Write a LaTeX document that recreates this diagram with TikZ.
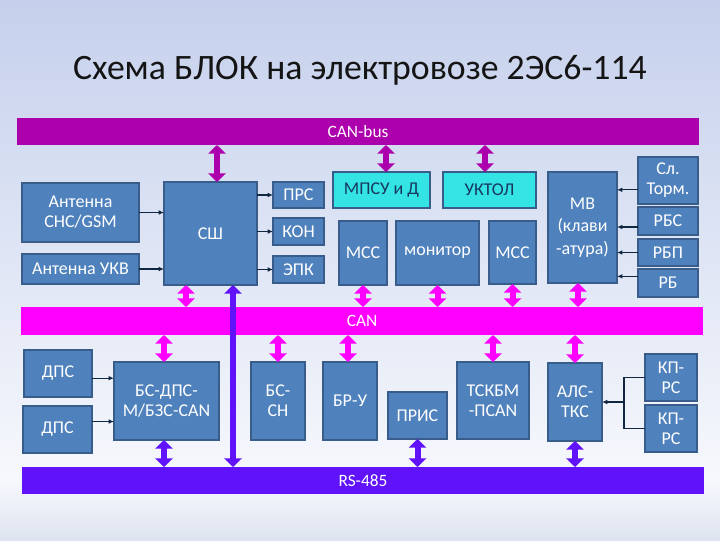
\documentclass[tikz,border=0pt]{standalone}
\usepackage{fontspec}
\setmainfont{Carlito}
\usetikzlibrary{arrows.meta,calc}
\definecolor{bgtop}{RGB}{197,208,236}
\definecolor{bgmid}{RGB}{246,248,252}
\definecolor{bgbot}{RGB}{222,228,240}
\definecolor{boxblue}{RGB}{79,129,189}
\definecolor{boxedge}{RGB}{56,93,138}
\definecolor{cyanbox}{RGB}{52,228,228}
\definecolor{navytext}{RGB}{23,55,94}
\definecolor{darkmag}{RGB}{172,0,172}
\definecolor{canpink}{RGB}{255,0,255}
\definecolor{rspurple}{RGB}{96,18,250}
\tikzset{
  boxs/.style={draw=boxedge, line width=1.1pt, fill=boxblue, text=white, align=center,
    inner sep=0pt, outer sep=0pt, font=\fontsize{13.5}{15}\selectfont},
  cyanboxs/.style={boxs, fill=cyanbox, text=navytext},
  bar/.style={draw=none, inner sep=0pt, outer sep=0pt, text=white, font=\fontsize{13}{14}\selectfont},
  bigarr/.style={line width=4.5pt, {Triangle[width=13pt,length=6.5pt]}-{Triangle[width=13pt,length=6.5pt]}},
  magarr/.style={bigarr, draw=darkmag},
  pinkarr/.style={bigarr, draw=canpink},
  purarr/.style={bigarr, draw=rspurple},
  thinarr/.style={draw=navytext!70!black, line width=0.8pt, -{Latex[length=4pt,width=3.5pt]}},
  thinline/.style={draw=navytext!70!black, line width=0.8pt}
}
\newcommand\bx[7][boxs]{\node[#1, minimum width={(#5-#3)*0.75pt}, minimum height={(#6-#4)*0.75pt}] (#2) at ({(#3+#5)/2},{(#4+#6)/2}) {#7};}
\begin{document}
\begin{tikzpicture}[x=0.75pt,y=-0.75pt]
\useasboundingbox (0,0) rectangle (720,540);
\shade[top color=bgtop, bottom color=bgmid] (0,0) rectangle (720,480);
\shade[top color=bgmid, bottom color=bgbot] (0,480) rectangle (720,540);
\node[font=\fontsize{26.8}{30}\selectfont, text=black!92] (title) at (360,70) {Схема БЛОК на электровозе 2ЭС6-114};
% bars
\bx[bar, fill=darkmag]{canbus}{17}{118}{699}{145}{CAN-bus}
\bx[bar, fill=canpink]{can}{21}{307}{703}{335}{}
\node[bar, anchor=center] (canlbl) at (362,321) {CAN};
\bx[bar, fill=rspurple]{rs}{22}{467}{704}{494}{RS-485}
% upper boxes
\bx{gsm}{22}{183}{139}{242}{Антенна\\СНС/GSM}
\bx{ukv}{22}{254}{139}{284}{Антенна УКВ}
\bx{sh}{164}{182}{257}{285}{СШ}
\bx{prs}{273}{182}{324}{208}{ПРС}
\bx{kon}{273}{218}{324}{245}{КОН}
\bx{epk}{273}{256}{324}{283}{ЭПК}
\bx[cyanboxs]{mpsu}{333}{172}{430}{208}{МПСУ и Д}
\bx[cyanboxs]{uktol}{443}{172}{536}{208}{УКТОЛ}
\bx{mcca}{339}{221}{387}{285}{МСС}
\bx{mon}{396}{221}{479}{285}{монитор}
\bx{mccb}{489}{221}{536}{284}{МСС}
\bx[boxs, font=\fontsize{13.5}{17}\selectfont]{mv}{548}{172}{617}{283}{МВ\\(клави\\-атура)}
\bx{slt}{638}{157}{698}{204}{Сл.\\Торм.}
\bx{rbs}{638}{207}{698}{235}{РБС}
\bx{rbp}{638}{239}{698}{266}{РБП}
\bx{rb}{638}{269}{698}{297}{РБ}
% lower boxes
\bx{dpsa}{24}{350}{92}{397}{ДПС}
\bx{dpsb}{23}{406}{92}{453}{ДПС}
\bx{bsdps}{114}{362}{219}{440}{БС-ДПС-\\М/БЗС-CAN}
\bx{bssn}{251}{362}{305}{440}{БС-\\СН}
\bx{bru}{323}{362}{377}{440}{БР-У}
\bx{pris}{388}{392}{447}{439}{ПРИС}
\bx{tskbm}{457}{362}{529}{439}{ТСКБМ\\-ПCAN}
\bx{als}{548}{363}{602}{441}{АЛС-\\ТКС}
\bx{kpa}{645}{354}{697}{401}{КП-\\РС}
\bx{kpb}{645}{405}{697}{452}{КП-\\РС}
% thin arrows
\draw[thinarr] (gsm.east) -- (gsm.east -| sh.west);
\draw[thinarr] (ukv.east) -- (ukv.east -| sh.west);
\draw[thinarr] (prs.west -| sh.east) -- (prs.west);
\draw[thinarr] (kon.west -| sh.east) -- (kon.west);
\draw[thinarr] (epk.west -| sh.east) -- (epk.west);
\draw[thinarr] ([yshift=-7pt]slt.west) -- ([yshift=-7pt]slt.west -| mv.east);
\draw[thinarr] ([yshift=-4.5pt]rbs.west) -- ([yshift=-4.5pt]rbs.west -| mv.east);
\draw[thinarr] (rbp.west) -- (rbp.west -| mv.east);
\draw[thinarr] ([yshift=5pt]rb.west) -- ([yshift=5pt]rb.west -| mv.east);
\draw[thinarr] ([yshift=-3.5pt]dpsa.east) -- ([yshift=-3.5pt]dpsa.east -| bsdps.west);
\draw[thinarr] ([yshift=6pt]dpsb.east) -- ([yshift=6pt]dpsb.east -| bsdps.west);
\coordinate (jn) at (624,402);
\draw[thinline] (kpa.west) -| (jn) |- (kpb.west);
\draw[thinarr] (jn) -- (als.east);
% CAN-bus arrows
\coordinate (shA) at ($(sh.north)+(6.5,0)$);
\coordinate (mpA) at ($(mpsu.north)+(4.5,0)$);
\coordinate (ukA) at ($(uktol.north)+(-4.5,0)$);
\draw[magarr] (shA |- canbus.south) -- (shA);
\draw[magarr] (mpA |- canbus.south) -- (mpA);
\draw[magarr] (ukA |- canbus.south) -- (ukA);
% CAN arrows
\coordinate (shB) at ($(sh.south)+(-24.5,0)$);
\coordinate (mvB) at ($(mv.south)+(-4.5,0)$);
\draw[pinkarr] (shB) -- (shB |- can.north);
\draw[pinkarr] (mcca.south) -- (mcca.south |- can.north);
\draw[pinkarr] (mon.south) -- (mon.south |- can.north);
\draw[pinkarr] (mccb.south) -- (mccb.south |- can.north);
\draw[pinkarr] (mvB) -- (mvB |- can.north);
\coordinate (bsA) at ($(bsdps.north)+(-2.5,0)$);
\coordinate (brA) at ($(bru.north)+(-2,0)$);
\draw[pinkarr] (bsA |- can.south) -- (bsA);
\draw[pinkarr] (bssn.north |- can.south) -- (bssn.north);
\draw[pinkarr] (brA |- can.south) -- (brA);
\draw[pinkarr] (tskbm.north |- can.south) -- (tskbm.north);
\draw[pinkarr] (als.north |- can.south) -- (als.north);
% RS-485 arrows
\coordinate (shC) at ($(sh.south)+(22.5,0)$);
\coordinate (bsC) at ($(bsdps.south)+(-2.5,0)$);
\draw[purarr] (shC) -- (shC |- rs.north);
\draw[purarr] (bsC) -- (bsC |- rs.north);
\draw[purarr] (pris.south) -- (pris.south |- rs.north);
\draw[purarr] (als.south) -- (als.south |- rs.north);
\end{tikzpicture}
\end{document}
